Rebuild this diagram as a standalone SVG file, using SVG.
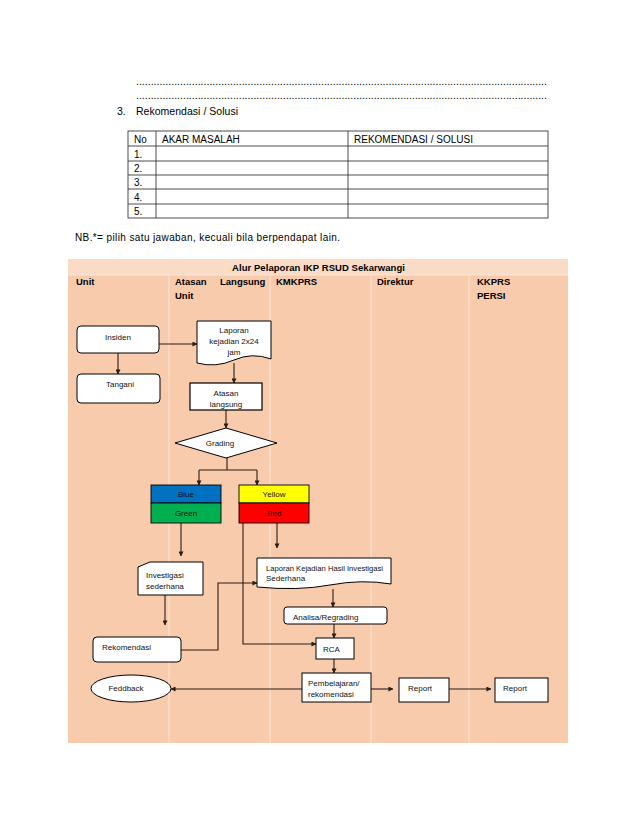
<svg xmlns="http://www.w3.org/2000/svg" width="638" height="826" viewBox="0 0 638 826">
<defs>
<marker id="ah" viewBox="0 0 6 6" refX="5.5" refY="3" markerWidth="5" markerHeight="5" markerUnits="userSpaceOnUse" orient="auto">
<path d="M0,0 L6,3 L0,6 Z" fill="#2a1d14"/>
</marker>
<style>
.t{font-family:"Liberation Sans",Arial,sans-serif;fill:#000}
.doc{font-size:10px}
.hd{font-size:9.5px;font-weight:bold}
.n{font-size:8px;fill:#111}
.box{fill:#fff;stroke:#000;stroke-width:1}
.c{fill:none;stroke:#2a1d14;stroke-width:1.1}
.ca{fill:none;stroke:#2a1d14;stroke-width:1.1;marker-end:url(#ah)}
.grid{stroke:#3a3a3a;stroke-width:0.9;fill:none}
.sep{stroke:#FCE6D8;stroke-width:1}
</style>
</defs>
<rect width="638" height="826" fill="#fff"/>

<g id="form">
<text class="t doc" x="136" y="85" textLength="411" lengthAdjust="spacingAndGlyphs">............................................................................................................................................</text>
<text class="t doc" x="136" y="99" textLength="411" lengthAdjust="spacingAndGlyphs">............................................................................................................................................</text>
<text class="t doc" x="117" y="115" style="font-size:10.5px">3.</text>
<text class="t doc" x="136" y="115" style="font-size:10.5px" textLength="102">Rekomendasi / Solusi</text>
<rect class="grid" x="128" y="131" width="420" height="87"/>
<line class="grid" x1="128" y1="146" x2="548" y2="146"/>
<line class="grid" x1="128" y1="161" x2="548" y2="161"/>
<line class="grid" x1="128" y1="175" x2="548" y2="175"/>
<line class="grid" x1="128" y1="189" x2="548" y2="189"/>
<line class="grid" x1="128" y1="204" x2="548" y2="204"/>
<line class="grid" x1="156" y1="131" x2="156" y2="218"/>
<line class="grid" x1="348" y1="131" x2="348" y2="218"/>
<text class="t doc" x="134" y="143">No</text>
<text class="t doc" x="162" y="143">AKAR MASALAH</text>
<text class="t doc" x="354" y="143">REKOMENDASI / SOLUSI</text>
<text class="t doc" x="134" y="158">1.</text>
<text class="t doc" x="134" y="172">2.</text>
<text class="t doc" x="134" y="186">3.</text>
<text class="t doc" x="134" y="201">4.</text>
<text class="t doc" x="134" y="215">5.</text>
<text class="t doc" x="75" y="241" textLength="265">NB.*= pilih satu jawaban, kecuali bila berpendapat lain.</text>
</g>

<g id="swimlanes">
<rect x="68" y="259" width="500" height="484" fill="#F8CBAD"/>
<rect x="68" y="259" width="500" height="16" fill="#FADCC6"/>
<line class="sep" x1="68" y1="275" x2="568" y2="275"/>
<line class="sep" x1="169" y1="275" x2="169" y2="743"/>
<line class="sep" x1="270" y1="275" x2="270" y2="743"/>
<line class="sep" x1="371" y1="275" x2="371" y2="743"/>
<line class="sep" x1="469" y1="275" x2="469" y2="743"/>
<text class="t hd" x="232" y="271" textLength="173">Alur Pelaporan IKP RSUD Sekarwangi</text>
<text class="t hd" x="76" y="285">Unit</text>
<text class="t hd" x="175" y="285">Atasan</text>
<text class="t hd" x="220" y="285">Langsung</text>
<text class="t hd" x="175" y="299">Unit</text>
<text class="t hd" x="276" y="285">KMKPRS</text>
<text class="t hd" x="377" y="285">Direktur</text>
<text class="t hd" x="477" y="285">KKPRS</text>
<text class="t hd" x="477" y="299">PERSI</text>
</g>

<g id="connectors">
<path class="ca" d="M118,353 V374"/>
<path class="ca" d="M159,344 H197"/>
<path class="ca" d="M234,363 V383"/>
<path class="ca" d="M226,410 V428"/>
<path class="c" d="M227,458 V470 M199,470 H257"/>
<path class="ca" d="M199,470 V485"/>
<path class="ca" d="M257,470 V485"/>
<path class="ca" d="M181,523 V556"/>
<path class="ca" d="M165,595 V625"/>
<path class="ca" d="M181,650 H218 V583 H257"/>
<path class="ca" d="M277,523 V548"/>
<path class="ca" d="M243,523 V644 H316"/>
<path class="ca" d="M333,589 V607"/>
<path class="ca" d="M334,624 V638"/>
<path class="ca" d="M334,659 V673"/>
<path class="ca" d="M302,689 H171"/>
<path class="ca" d="M371,689 H393"/>
<path class="ca" d="M449,689 H491"/>
</g>

<g id="insiden">
<rect class="box" x="77" y="326" width="82" height="27" rx="4"/>
<text class="t n" x="118" y="340" text-anchor="middle">Insiden</text>
</g>
<g id="tangani">
<rect class="box" x="77" y="374" width="83" height="29" rx="4"/>
<text class="t n" x="120" y="387" text-anchor="middle">Tangani</text>
</g>
<g id="laporan">
<path class="box" d="M197,321 H271 V359 Q252,352 234,360 T197,363 Z"/>
<text class="t n" x="234" y="333" text-anchor="middle">Laporan</text>
<text class="t n" x="234" y="344" text-anchor="middle">kejadian 2x24</text>
<text class="t n" x="234" y="355" text-anchor="middle">jam</text>
</g>
<g id="atasan">
<rect class="box" x="190" y="383" width="72" height="27" style="stroke-width:1.2"/>
<text class="t n" x="226" y="396" text-anchor="middle">Atasan</text>
<text class="t n" x="226" y="407" text-anchor="middle">langsung</text>
</g>
<g id="grading">
<path class="box" d="M175,443 L226,428 L277,443 L226,458 Z"/>
<text class="t n" x="220" y="446" text-anchor="middle">Grading</text>
</g>
<g id="bluegreen">
<rect x="151" y="485" width="70" height="18" fill="#0070C0" stroke="#000" stroke-width="0.9"/>
<rect x="151" y="503" width="70" height="20" fill="#00B050" stroke="#000" stroke-width="0.9"/>
<text class="t n" x="186" y="497" text-anchor="middle">Blue</text>
<text class="t n" x="186" y="516" text-anchor="middle">Green</text>
</g>
<g id="yellowred">
<rect x="239" y="485" width="70" height="18" fill="#FFFF00" stroke="#000" stroke-width="0.9"/>
<rect x="239" y="503" width="70" height="20" fill="#FF0000" stroke="#000" stroke-width="0.9"/>
<text class="t n" x="274" y="497" text-anchor="middle">Yellow</text>
<text class="t n" x="274" y="516" text-anchor="middle">Red</text>
</g>
<g id="investigasi">
<path class="box" d="M150,562 H203 V595 H138 V567 Z"/>
<text class="t n" x="146" y="578">Investigasi</text>
<text class="t n" x="146" y="589">sederhana</text>
</g>
<g id="rekomendasi">
<rect class="box" x="93" y="637" width="88" height="25" rx="4"/>
<text class="t n" x="102" y="650">Rekomendasi</text>
</g>
<g id="laporan-hasil">
<path class="box" d="M257,558 H391 V584 Q362,579 330,585 T257,587 Z"/>
<text class="t n" x="266" y="571" textLength="117" lengthAdjust="spacingAndGlyphs">Laporan Kejadian Hasil Investigasi</text>
<text class="t n" x="266" y="581">Sederhana</text>
</g>
<g id="analisa">
<rect class="box" x="284" y="607" width="103" height="17" rx="3"/>
<text class="t n" x="293" y="620">Analisa/Regrading</text>
</g>
<g id="rca">
<rect class="box" x="316" y="638" width="38" height="21"/>
<text class="t n" x="323" y="652">RCA</text>
</g>
<g id="feddback">
<ellipse class="box" cx="131" cy="688.5" rx="40" ry="13.5"/>
<text class="t n" x="126" y="691" text-anchor="middle">Feddback</text>
</g>
<g id="pembelajaran">
<rect class="box" x="302" y="673" width="69" height="29"/>
<text class="t n" x="308" y="686">Pembelajaran/</text>
<text class="t n" x="308" y="697">rekomendasi</text>
</g>
<g id="report1">
<rect class="box" x="399" y="678" width="50" height="24"/>
<text class="t n" x="408" y="691">Report</text>
</g>
<g id="report2">
<rect class="box" x="495" y="678" width="53" height="24"/>
<text class="t n" x="503" y="691">Report</text>
</g>
</svg>
